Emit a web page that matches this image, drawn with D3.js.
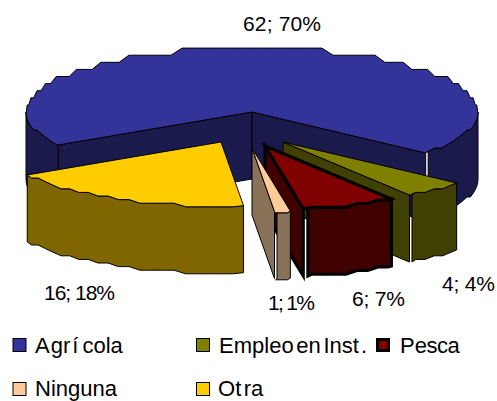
<!DOCTYPE html>
<html>
<head>
<meta charset="utf-8">
<script src="https://cdn.jsdelivr.net/npm/d3@7"></script>
<style>
html, body { margin: 0; padding: 0; background: #fff; }
svg { display: block; }
text { font-family: "Liberation Sans", Arial, sans-serif; fill: #000; }
</style>
</head>
<body>
<svg></svg>
<script>
var width = 497;
var height = 401;

// values
var categories = ["Agrícola", "Empleo en Inst.", "Pesca", "Ninguna", "Otra"];
var values = [62, 4, 6, 1, 16];

var topColors = ["#333399", "#808000", "#800000", "#FFCC99", "#FFCC00"];
var sideColors = ["#1a1a4d", "#404000", "#400000", "#8a7259", "#806600"];
var strokeWidths = [1, 1, 3, 1, 1];

// layout only: where each slice apex sits, label anchors, legend cells
var apexX = [252, 283, 265, 252, 221];
var apexY = [112, 142, 146, 148, 142];
var labelX = { "Agrícola": 243, "Empleo en Inst.": 442, "Pesca": 352, "Ninguna": 268, "Otra": 44 };
var labelY = { "Agrícola": 31, "Empleo en Inst.": 291, "Pesca": 306, "Ninguna": 310, "Otra": 300 };
var labelW = { "Agrícola": 78, "Empleo en Inst.": 53, "Pesca": 53, "Ninguna": 47, "Otra": 71 };
var legendBoxX = { "Agrícola": 13, "Empleo en Inst.": 196.5, "Pesca": 377.5, "Ninguna": 13, "Otra": 196.5 };
var legendBoxY = { "Agrícola": 338.5, "Empleo en Inst.": 338.5, "Pesca": 339.5, "Ninguna": 382.5, "Otra": 382.5 };
var legendBoxS = { "Agrícola": 13, "Empleo en Inst.": 13, "Pesca": 11, "Ninguna": 13, "Otra": 13 };
var legendTextX = { "Agrícola": 35, "Empleo en Inst.": 219, "Pesca": 400, "Ninguna": 35, "Otra": 218 };
var legendTextY = { "Agrícola": 353, "Empleo en Inst.": 353, "Pesca": 353, "Ninguna": 396, "Otra": 396 };
// the original has uneven letter gaps
var legendDx = {
    "Agrícola": "0 1 0 2 4 0 0 0",
    "Empleo en Inst.": "0 0 0 0 0 0 -3.5 0 0 -3.5 0 0 0 0 2",
    "Pesca": "0 0 -0.5 -0.5 -0.5",
    "Ninguna": "0",
    "Otra": "0 0 2.5 0"
};

var rx = 226;
var ry = 64;
var depth = 67;
var snapBack = 7.1; // original outline is stepped, not smooth
var snapFront = 3.6;
var deg = Math.PI / 180;

var svg = d3.select("svg").attr("width", width).attr("height", height);

var total = d3.sum(values);
var slices = d3.pie()
    .sort(null)
    .value(d => d)
    .startAngle(239 * deg)
    .endAngle(599 * deg)(values);

var line = d3.line();
var color = d3.scaleOrdinal().domain(categories).range(topColors);
var side = d3.scaleOrdinal().domain(categories).range(sideColors);

function snap(v) {
    var s = v > 0 ? snapBack : snapFront;
    return Math.round(v / s) * s;
}

// point on the rim, angle clockwise from the top of the ellipse
function rim(i, a, exact) {
    var dy = ry * Math.cos(a);
    return [apexX[i] + rx * Math.sin(a), apexY[i] - (exact ? dy : snap(dy))];
}

function arcPoints(i, a0, a1) {
    var pts = [rim(i, a0, true)];
    var step = 3 * deg;
    for (var a = Math.ceil(a0 / step + 0.01) * step; a < a1; a += step) {
        pts.push(rim(i, a, false));
    }
    pts.push(rim(i, a1, true));
    return pts;
}

function down(p) {
    return [p[0], p[1] + depth];
}

// rim pieces that face the viewer
function wallRanges(a0, a1) {
    var out = [];
    for (var k = 0; k < 2; k++) {
        var lo = Math.max(a0, (90 + 360 * k) * deg);
        var hi = Math.min(a1, (270 + 360 * k) * deg);
        if (lo < hi) out.push([lo, hi]);
    }
    return out;
}

slices.forEach(function(s, i) {
    var name = categories[i];
    var g = svg.append("g")
        .attr("stroke", "#000")
        .attr("stroke-width", strokeWidths[i])
        .attr("stroke-linejoin", "miter");
    var apex = [apexX[i], apexY[i]];

    // cut faces
    [s.startAngle, s.endAngle].forEach(function(a, j) {
        var m = ((a / deg) % 360 + 360) % 360;
        var visible = j === 1 ? m < 180 : m > 180;
        if (!visible) return;
        var p = rim(i, a, true);
        g.append("path")
            .attr("fill", side(name))
            .attr("d", line([apex, p, down(p), down(apex)]) + "Z");
    });

    // outer walls, with the small gap next to the end cut
    wallRanges(s.startAngle, s.endAngle).forEach(function(r) {
        var top = arcPoints(i, r[0], r[1]);
        var isEnd = r[1] === s.endAngle && ((r[1] / deg) % 360) < 180;
        if (isEnd) {
            var last = top[top.length - 1];
            top[top.length - 1] = [last[0] + strokeWidths[i] + 1.5, last[1]];
        }
        var pts = top.concat(top.slice().reverse().map(down));
        g.append("path")
            .attr("fill", side(name))
            .attr("d", line(pts) + "Z");
    });

    // top face
    g.append("path")
        .attr("fill", color(name))
        .attr("d", line([apex].concat(arcPoints(i, s.startAngle, s.endAngle))) + "Z");
});

// data labels
var pct = d3.format(".0%");
svg.selectAll(".label")
    .data(categories)
    .enter()
    .append("text")
    .attr("class", "label")
    .attr("x", d => labelX[d])
    .attr("y", d => labelY[d])
    .attr("font-size", 21)
    .attr("textLength", d => labelW[d])
    .attr("lengthAdjust", "spacing")
    .text((d, i) => values[i] + "; " + pct(values[i] / total));

// legend
var legend = svg.selectAll(".legend")
    .data(categories)
    .enter()
    .append("g")
    .attr("class", "legend");

legend.append("rect")
    .attr("x", d => legendBoxX[d])
    .attr("y", d => legendBoxY[d])
    .attr("width", d => legendBoxS[d])
    .attr("height", d => legendBoxS[d])
    .attr("fill", d => color(d))
    .attr("stroke", "#000")
    .attr("stroke-width", (d, i) => strokeWidths[i]);

legend.append("text")
    .attr("x", d => legendTextX[d])
    .attr("y", d => legendTextY[d])
    .attr("font-size", 22)
    .attr("dx", d => legendDx[d])
    .text(d => d);
</script>
</body>
</html>
